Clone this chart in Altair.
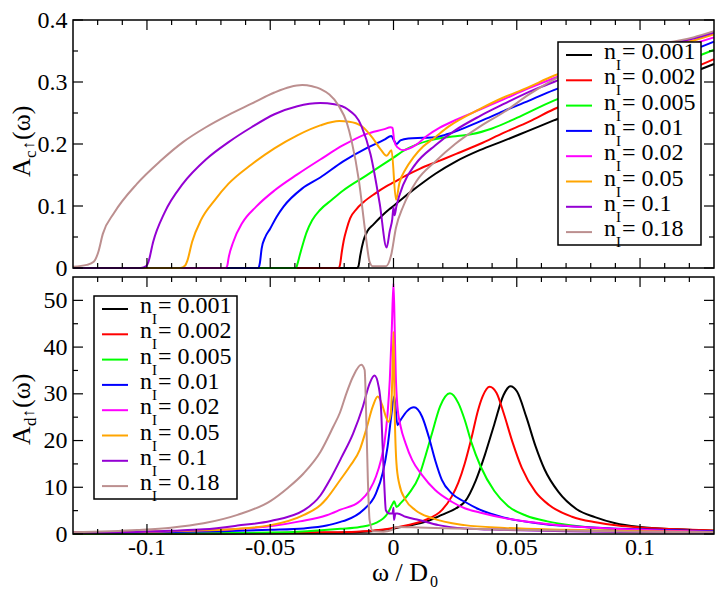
import altair as alt
import pandas as pd

NAMES = ["0.001", "0.002", "0.005", "0.01", "0.02", "0.05", "0.1", "0.18"]
COLORS = ["#000000", "#ff0000", "#00ff00", "#0000ff", "#ff00ff", "#ffa500", "#9400d3", "#bc8f8f"]

# ---------- top panel: A_c(w) ----------
T_0001 = [(-0.13,0.0),(-0.0148,0.0),(-0.0142,0.003),(-0.0135,0.02),(-0.0122,0.044),(-0.0105,0.06),(-0.0082,0.07),(-0.005,0.083),(-0.0016,0.095),(0.0,0.1),(0.0039,0.113),(0.008,0.126),(0.012,0.138),(0.017,0.152),(0.0254,0.172),(0.035,0.19),(0.0446,0.205),(0.0539,0.22),(0.065,0.238),(0.08,0.262),(0.1,0.29),(0.1216,0.316),(0.13,0.329)]
T_0002 = [(-0.13,0.0),(-0.0222,0.0),(-0.0217,0.005),(-0.021,0.025),(-0.0202,0.044),(-0.019,0.063),(-0.0176,0.08),(-0.015,0.095),(-0.0122,0.106),(-0.0075,0.12),(-0.0028,0.132),(0.0,0.138),(0.005,0.149),(0.0106,0.16),(0.018,0.172),(0.0254,0.184),(0.035,0.2),(0.0446,0.218),(0.055,0.236),(0.065,0.256),(0.08,0.28),(0.1,0.302),(0.1216,0.323),(0.13,0.337)]
T_0005 = [(-0.13,0.0),(-0.0395,0.0),(-0.039,0.006),(-0.038,0.021),(-0.0365,0.042),(-0.0353,0.057),(-0.033,0.077),(-0.0297,0.094),(-0.025,0.11),(-0.0204,0.125),(-0.0111,0.149),(-0.005,0.165),(0.0,0.178),(0.0045,0.19),(0.0093,0.199),(0.014,0.205),(0.02,0.21),(0.026,0.213),(0.032,0.216),(0.04,0.225),(0.05,0.242),(0.065,0.27),(0.08,0.292),(0.1,0.315),(0.1216,0.339),(0.13,0.352)]
T_001 = [(-0.13,0.0),(-0.0548,0.0),(-0.0542,0.008),(-0.0535,0.031),(-0.052,0.05),(-0.0501,0.063),(-0.0475,0.082),(-0.0446,0.099),(-0.0371,0.128),(-0.0297,0.146),(-0.0204,0.172),(-0.0111,0.193),(-0.0037,0.207),(-0.0009,0.213),(0.0003,0.205),(0.0012,0.2),(0.0028,0.206),(0.006,0.209),(0.012,0.21),(0.017,0.211),(0.022,0.216),(0.0353,0.237),(0.0446,0.253),(0.055,0.27),(0.065,0.287),(0.08,0.307),(0.1,0.332),(0.1216,0.352),(0.13,0.365)]
T_002 = [(-0.13,0.0),(-0.068,0.0),(-0.0674,0.004),(-0.0669,0.016),(-0.065,0.042),(-0.0613,0.073),(-0.0557,0.099),(-0.0483,0.125),(-0.039,0.151),(-0.0297,0.175),(-0.0204,0.198),(-0.0111,0.216),(-0.0037,0.224),(-0.0012,0.227),(-0.0004,0.226),(0.0003,0.205),(0.0015,0.195),(0.004,0.19),(0.0065,0.193),(0.0093,0.199),(0.0135,0.213),(0.0186,0.226),(0.026,0.24),(0.0353,0.256),(0.0446,0.272),(0.055,0.29),(0.065,0.306),(0.08,0.327),(0.1,0.347),(0.1216,0.362),(0.13,0.372)]
T_005 = [(-0.13,0.0),(-0.0865,0.0),(-0.0845,0.004),(-0.0836,0.012),(-0.0817,0.042),(-0.078,0.078),(-0.0724,0.11),(-0.0669,0.136),(-0.0576,0.167),(-0.0483,0.193),(-0.039,0.214),(-0.0297,0.23),(-0.022,0.237),(-0.018,0.236),(-0.013,0.229),(-0.0085,0.21),(-0.005,0.19),(-0.0028,0.181),(-0.0008,0.19),(0.001,0.11),(0.0024,0.137),(0.005,0.16),(0.008,0.178),(0.012,0.196),(0.016,0.208),(0.0223,0.228),(0.0353,0.257),(0.0446,0.275),(0.0539,0.29),(0.065,0.31),(0.08,0.33),(0.1,0.352),(0.1216,0.367),(0.13,0.377)]
T_01 = [(-0.13,0.0),(-0.1025,0.0),(-0.1003,0.003),(-0.0994,0.01),(-0.0975,0.042),(-0.0929,0.089),(-0.0854,0.136),(-0.0761,0.175),(-0.0669,0.203),(-0.0576,0.227),(-0.0483,0.248),(-0.039,0.261),(-0.0297,0.266),(-0.024,0.264),(-0.0186,0.256),(-0.013,0.229),(-0.0093,0.183),(-0.0056,0.104),(-0.0028,0.033),(-0.0015,0.06),(-0.0005,0.079),(0.0,0.098),(0.0004,0.085),(0.0012,0.1),(0.004,0.135),(0.009,0.168),(0.017,0.198),(0.025,0.222),(0.035,0.245),(0.045,0.265),(0.055,0.284),(0.065,0.3),(0.08,0.325),(0.1,0.352),(0.1216,0.37),(0.13,0.38)]
T_018 = [(-0.13,0.002),(-0.1244,0.005),(-0.1216,0.01),(-0.1198,0.025),(-0.1179,0.055),(-0.1133,0.089),(-0.104,0.136),(-0.0947,0.172),(-0.0854,0.203),(-0.0761,0.227),(-0.0669,0.247),(-0.0576,0.265),(-0.0483,0.283),(-0.042,0.292),(-0.037,0.295),(-0.033,0.293),(-0.0297,0.289),(-0.0223,0.262),(-0.019,0.235),(-0.017,0.205),(-0.014,0.14),(-0.0115,0.06),(-0.0097,0.01),(-0.0085,0.003),(-0.003,0.003),(-0.001,0.02),(0.001,0.065),(0.004,0.1),(0.0093,0.14),(0.017,0.172),(0.025,0.2),(0.035,0.228),(0.045,0.252),(0.055,0.28),(0.065,0.304),(0.08,0.33),(0.1,0.355),(0.1216,0.372),(0.13,0.382)]

# ---------- bottom panel: A_d(w) ----------
B_0001 = [(-0.13,0.05),(-0.08,0.08),(-0.05,0.15),(-0.03,0.25),(-0.015,0.4),(-0.005,0.8),(0.0,1.2),(0.0065,1.8),(0.0129,2.6),(0.0196,4.1),(0.0263,5.8),(0.0289,6.9),(0.0334,11.5),(0.0371,17.0),(0.0409,23.5),(0.0446,29.7),(0.0474,31.6),(0.0501,30.5),(0.0539,25.0),(0.0576,18.8),(0.0613,13.8),(0.0669,9.0),(0.0743,5.3),(0.0817,3.6),(0.09,2.3),(0.1,1.5),(0.115,1.0),(0.13,0.7)]
B_0002 = [(-0.13,0.05),(-0.08,0.1),(-0.05,0.2),(-0.03,0.35),(-0.015,0.5),(-0.005,0.9),(0.0,1.3),(0.0065,2.0),(0.0129,3.0),(0.0196,5.1),(0.0236,8.0),(0.0263,11.0),(0.0289,15.1),(0.0316,20.5),(0.0343,26.5),(0.0362,29.5),(0.039,31.5),(0.0418,30.2),(0.0446,26.0),(0.0483,19.6),(0.052,14.2),(0.0576,9.0),(0.0631,6.2),(0.0724,3.7),(0.082,2.5),(0.091,1.8),(0.1,1.4),(0.115,1.0),(0.13,0.75)]
B_0005 = [(-0.13,0.05),(-0.08,0.15),(-0.05,0.3),(-0.035,0.6),(-0.0215,1.1),(-0.0137,1.5),(-0.0071,2.4),(-0.0024,4.4),(-0.0004,6.4),(0.0003,7.0),(0.0012,5.8),(0.0029,6.6),(0.0063,8.7),(0.0103,12.3),(0.0129,16.6),(0.0156,21.5),(0.0189,27.3),(0.0229,30.1),(0.0263,28.0),(0.0289,24.4),(0.0316,19.6),(0.0353,14.5),(0.0409,9.2),(0.0464,6.0),(0.0539,3.9),(0.0624,2.7),(0.0724,1.8),(0.09,1.0),(0.11,0.7),(0.13,0.5)]
B_001 = [(-0.13,0.2),(-0.1,0.35),(-0.07,0.6),(-0.05,0.9),(-0.0363,1.2),(-0.0271,1.8),(-0.0215,2.6),(-0.0191,3.0),(-0.0124,5.1),(-0.0071,8.7),(-0.0044,13.0),(-0.0024,18.7),(-0.0011,24.4),(0.0003,29.5),(0.0016,23.3),(0.0029,24.4),(0.0055,26.3),(0.0083,27.1),(0.0116,25.1),(0.0143,20.8),(0.0169,15.8),(0.0196,11.6),(0.0236,8.7),(0.0289,6.9),(0.035,5.2),(0.045,3.5),(0.06,2.2),(0.08,1.4),(0.1,1.0),(0.13,0.6)]
B_002 = [(-0.13,0.3),(-0.1,0.5),(-0.08,0.75),(-0.067,0.95),(-0.048,1.8),(-0.038,2.7),(-0.0271,4.0),(-0.0215,5.2),(-0.0137,7.0),(-0.0097,9.4),(-0.0071,12.3),(-0.0051,15.8),(-0.0037,19.4),(-0.0024,25.8),(-0.0015,33.0),(-0.0007,43.7),(0.0,53.7),(0.0005,43.7),(0.0009,34.4),(0.0016,27.3),(0.0029,23.0),(0.0049,19.4),(0.0076,15.8),(0.0116,12.6),(0.0169,9.4),(0.0236,6.9),(0.0289,5.5),(0.035,4.6),(0.045,3.4),(0.063,2.1),(0.08,1.4),(0.1,0.9),(0.13,0.5)]
B_005 = [(-0.13,0.3),(-0.1,0.5),(-0.08,0.75),(-0.07,0.9),(-0.0498,1.9),(-0.0363,4.1),(-0.0296,6.2),(-0.0271,7.6),(-0.0217,11.5),(-0.0177,14.5),(-0.0137,18.0),(-0.0111,22.3),(-0.0084,27.3),(-0.0064,29.4),(-0.0044,27.3),(-0.0031,25.1),(-0.002,24.0),(-0.0011,25.8),(-0.0005,33.0),(0.0,43.3),(0.0005,25.8),(0.0012,15.1),(0.0023,10.8),(0.0049,7.3),(0.0089,5.1),(0.0156,3.4),(0.0289,1.9),(0.045,1.3),(0.07,0.9),(0.1,0.6),(0.13,0.4)]
B_01 = [(-0.13,0.3),(-0.104,0.45),(-0.09,0.7),(-0.077,1.0),(-0.0633,1.8),(-0.0498,2.8),(-0.0363,5.1),(-0.0296,8.3),(-0.0255,11.9),(-0.021,16.5),(-0.0164,21.5),(-0.0124,27.3),(-0.0097,32.2),(-0.0077,33.9),(-0.006,31.5),(-0.0051,27.3),(-0.0044,18.7),(-0.0037,10.1),(-0.0031,5.1),(-0.0017,4.4),(-0.0004,4.4),(0.0,5.6),(0.0002,3.0),(0.0008,4.4),(0.0016,4.4),(0.0049,3.7),(0.0103,3.0),(0.0183,1.9),(0.0289,1.2),(0.045,0.9),(0.07,0.6),(0.1,0.4),(0.13,0.3)]
B_018 = [(-0.13,0.36),(-0.104,0.86),(-0.0903,1.36),(-0.077,2.3),(-0.0633,4.1),(-0.0498,7.1),(-0.043,9.8),(-0.0364,13.0),(-0.0296,17.6),(-0.0244,23.0),(-0.0217,26.0),(-0.0191,30.1),(-0.0164,33.7),(-0.0131,36.2),(-0.0117,35.1),(-0.0111,25.8),(-0.0104,11.6),(-0.0097,3.0),(-0.0084,0.6),(-0.004,0.5),(-0.001,0.8),(0.001,1.5),(0.01,1.4),(0.03,1.1),(0.06,0.8),(0.1,0.5),(0.13,0.4)]

TOP = [T_0001, T_0002, T_0005, T_001, T_002, T_005, T_01, T_018]
BOT = [B_0001, B_0002, B_0005, B_001, B_002, B_005, B_01, B_018]

# tick values / labels
X_LABELS = [-0.1, -0.05, 0.0, 0.05, 0.1]
X_LABEL_TEXT = ["-0.1", "-0.05", "0", "0.05", "0.1"]
X_MINOR = [-0.12, -0.11, -0.09, -0.08, -0.07, -0.06, -0.04, -0.03, -0.02, -0.01,
           0.01, 0.02, 0.03, 0.04, 0.06, 0.07, 0.08, 0.09, 0.11, 0.12]
TOP_Y_LABELS = [0.0, 0.1, 0.2, 0.3, 0.4]
TOP_Y_MINOR = [0.05, 0.15, 0.25, 0.35]
BOT_Y_LABELS = [0, 10, 20, 30, 40, 50]
BOT_Y_MINOR = [5, 15, 25, 35, 45]

# ---------- layout (pixels) ----------
W = 641
TOP_T, TOP_B = 0, 248
BOT_T, BOT_B = 257, 514
FONT = "'Liberation Serif', 'Times New Roman', Times, serif"
MAJ, MIN = 10, 5
ROW = 25.3

XS = alt.Scale(domain=[-0.13, 0.13], nice=False, zero=False)
YS_TOP = alt.Scale(domain=[0, 0.4], range=[TOP_B, TOP_T], nice=False, zero=False)
YS_BOT = alt.Scale(domain=[0, 55], range=[BOT_B, BOT_T], nice=False, zero=False)
CSCALE = alt.Scale(domain=NAMES, range=COLORS)
ONE = alt.Data(values=[{"k": 1}])

AX = dict(ticks=False, tickSize=0, domain=False, grid=False, labelFont=FONT,
          labelFontSize=24, labelColor="black", title=None)


def panel_df(series):
    rows = []
    for name, pts in zip(NAMES, series):
        for x, y in pts:
            rows.append({"x": x, "y": y, "s": name})
    return pd.DataFrame(rows)


def line_layer(series, yscale, yaxis):
    return alt.Chart(panel_df(series)).mark_line(strokeWidth=2, interpolate="monotone").encode(
        x=alt.X("x:Q", scale=XS, axis=None),
        y=alt.Y("y:Q", scale=yscale, axis=yaxis),
        color=alt.Color("s:N", scale=CSCALE, legend=None),
    )


def xticks(vals, y0, y1):
    return alt.Chart(pd.DataFrame({"v": vals})).mark_rule(color="black", strokeWidth=1.2).encode(
        x=alt.X("v:Q", scale=XS, axis=None), y=alt.value(y0), y2=alt.value(y1))


def yticks(vals, yscale, x0, x1):
    return alt.Chart(pd.DataFrame({"v": vals})).mark_rule(color="black", strokeWidth=1.2).encode(
        y=alt.Y("v:Q", scale=yscale, axis=None), x=alt.value(x0), x2=alt.value(x1))


def frame(t, b):
    return alt.Chart(ONE).mark_rect(filled=False, stroke="black", strokeWidth=1.5).encode(
        x=alt.value(0), x2=alt.value(W), y=alt.value(t), y2=alt.value(b))


def xlabels():
    df = pd.DataFrame({"v": X_LABELS, "t": X_LABEL_TEXT})
    return alt.Chart(df).mark_text(font=FONT, fontSize=24, align="center", baseline="alphabetic",
                                   color="black").encode(
        x=alt.X("v:Q", scale=XS, axis=None), y=alt.value(BOT_B + 21), text="t:N")


def legend(bx, by):
    df = pd.DataFrame({"i": list(range(len(NAMES))), "lab": ["= " + n for n in NAMES], "s": NAMES})
    yenc = alt.Y("i:O", scale=alt.Scale(type="point", domain=list(range(len(NAMES))),
                                        range=[by, by + (len(NAMES) - 1) * ROW], padding=0), axis=None)
    box = alt.Chart(ONE).mark_rect(fill="white", stroke="black", strokeWidth=1.5).encode(
        x=alt.value(bx), x2=alt.value(bx + 143), y=alt.value(by - 13),
        y2=alt.value(by + (len(NAMES) - 1) * ROW + 13))
    samp = alt.Chart(df).mark_rule(strokeWidth=2).encode(
        x=alt.value(bx + 8), x2=alt.value(bx + 34), y=yenc,
        color=alt.Color("s:N", scale=CSCALE, legend=None))
    n = alt.Chart(df).mark_text(font=FONT, fontSize=24, align="left", baseline="alphabetic",
                                dy=4, color="black").encode(x=alt.value(bx + 46), y=yenc, text=alt.value("n"))
    sub = alt.Chart(df).mark_text(font=FONT, fontSize=15, align="left", baseline="alphabetic",
                                  dy=15, color="black").encode(x=alt.value(bx + 58), y=yenc, text=alt.value("I"))
    lab = alt.Chart(df).mark_text(font=FONT, fontSize=24, align="left", baseline="alphabetic",
                                  dy=4, color="black").encode(x=alt.value(bx + 64), y=yenc, text="lab:N")
    return [box, samp, n, sub, lab]


def txt(x, y, s, size, angle=0, dx=0, dy=0, align="left"):
    return alt.Chart(ONE).mark_text(text=s, font=FONT, fontSize=size, angle=angle, align=align,
                                    baseline="alphabetic", dx=dx, dy=dy, color="black").encode(
        x=alt.value(x), y=alt.value(y))


def ytitle(y, sub):
    return [
        txt(-43, y, "A", 26, angle=270, dx=0, dy=0),
        txt(-43, y, sub, 17, angle=270, dx=19, dy=6),
        txt(-43, y, "\u2191", 17, angle=270, dx=27.5, dy=4),
        txt(-43, y, "(\u03c9)", 26, angle=270, dx=37, dy=0),
    ]


layers = [
    line_layer(BOT, YS_BOT, alt.Axis(values=BOT_Y_LABELS, orient="left", labelPadding=6, **AX)),
    line_layer(TOP, YS_TOP, alt.Axis(values=TOP_Y_LABELS, labelExpr="toString(datum.value)",
                                     orient="left", labelPadding=6, **AX)),
]

for (t, b, ys, ymaj, ymin) in [(TOP_T, TOP_B, YS_TOP, TOP_Y_LABELS, TOP_Y_MINOR),
                               (BOT_T, BOT_B, YS_BOT, BOT_Y_LABELS, BOT_Y_MINOR)]:
    layers += [
        xticks(X_LABELS, b, b - MAJ), xticks(X_MINOR, b, b - MIN),
        xticks(X_LABELS, t, t + MAJ), xticks(X_MINOR, t, t + MIN),
        yticks(ymaj, ys, 0, MAJ), yticks(ymin, ys, 0, MIN),
        yticks(ymaj, ys, W - MAJ, W), yticks(ymin, ys, W - MIN, W),
        frame(t, b),
    ]

layers.append(xlabels())
layers += legend(485, 35)
layers += legend(21, 289)
layers += ytitle(157, "c")
layers += ytitle(425, "d")
layers += [txt(355, 561, "\u03c9 / D", 26, align="right"), txt(357, 567, "0", 16)]

chart = alt.layer(*layers).resolve_scale(y="independent").properties(
    width=W, height=BOT_B,
    autosize=alt.AutoSizeParams(type="none"),
    padding={"left": 65, "top": 12, "right": 1, "bottom": 55},
    background="white",
).configure_view(stroke=None)

chart.save("out.html", embed_options={"renderer": "svg", "actions": False})
